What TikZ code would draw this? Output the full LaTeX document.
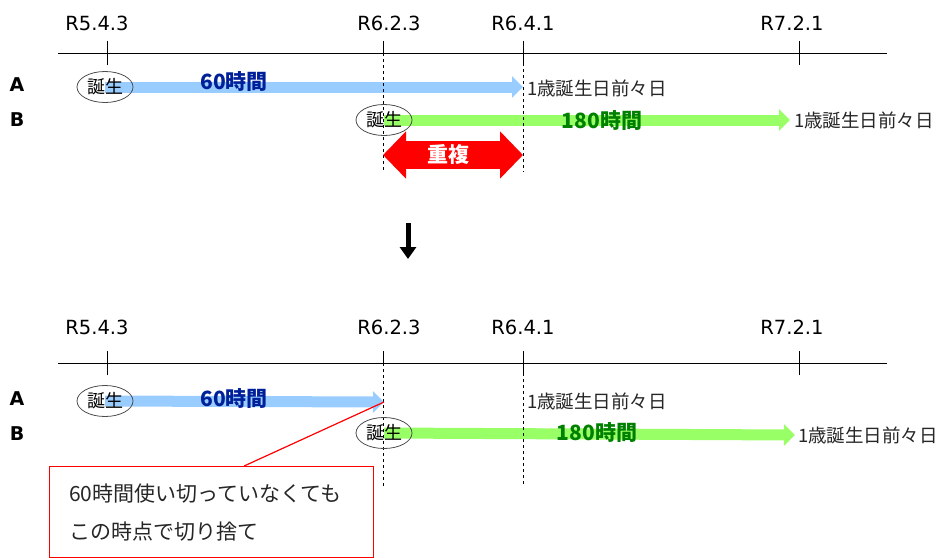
\documentclass[tikz,border=0pt]{standalone}
\usepackage{fontspec}
\setmainfont{DejaVu Sans}
\newfontfamily\jp{Noto Sans CJK JP}
\usetikzlibrary{arrows.meta,backgrounds,calc,shapes.geometric}

\definecolor{barblue}{RGB}{153,204,255}
\definecolor{bargreen}{RGB}{153,255,102}
\definecolor{txtblue}{RGB}{0,32,153}
\definecolor{txtgreen}{RGB}{0,128,0}

\tikzset{
    axis/.style={line width=0.9pt},
    guide/.style={line width=0.8pt, dash pattern=on 3pt off 3pt},
    datelbl/.style={inner sep=0pt, font=\fontsize{19.5}{22}\selectfont},
    rowlbl/.style={inner sep=0pt, font=\fontsize{19}{22}\selectfont\bfseries},
    birth/.style={ellipse, draw=black!70, line width=0.8pt, minimum width=56pt, minimum height=31pt, inner sep=0pt,
        font=\jp\fontsize{18}{20}\selectfont},
    daytxt/.style={anchor=west, inner sep=0pt, text=black!85, font=\jp\fontsize{18.5}{22}\selectfont},
    hours/.style={inner sep=0pt, font=\jp\bfseries\fontsize{21}{24}\selectfont},
    barA/.style={barblue, line width=11pt, -{Triangle[length=11pt,width=21pt]}},
    barB/.style={bargreen, line width=11pt, -{Triangle[length=11pt,width=21pt]}},
    overlap/.style={red, line width=28pt, {Triangle[length=23pt,width=46pt]}-{Triangle[length=23pt,width=46pt]}},
    downarrow/.style={line width=5pt, -{Triangle[length=12pt,width=16pt]}},
    notebox/.style={draw=red, line width=1.2pt, minimum width=324pt, minimum height=91pt, inner sep=0pt},
    notetxt/.style={anchor=west, inner sep=0pt, text=black!85, font=\jp\fontsize{21}{24}\selectfont}
}

\begin{document}
\begin{tikzpicture}[x=1pt, y=-1pt]
\useasboundingbox (0,0) rectangle (941,557);

% before
\draw[axis] (58,53) -- (887,53)
    (107,41) -- (107,65)
    (383,41) -- (383,53)
    (523,41) -- (523,63)
    (799,41) -- (799,65);
\draw[guide] (383,53) -- (383,172)
    (523,63) -- (523,172);

\node[datelbl] (d1) at (97,23) {R5.4.3};
\node[datelbl] (d2) at (389,23) {R6.2.3};
\node[datelbl] (d3) at (523,23) {R6.4.1};
\node[datelbl] (d4) at (792,23) {R7.2.1};

\node[rowlbl] (rowA) at (17,85) {A};
\node[rowlbl] (rowB) at (17,120) {B};

\node[birth] (birthA) at (105,87) {誕生};
\node[birth] (birthB) at (384,120) {誕生};
\coordinate (endA) at (523,87);
\coordinate (endB) at (790,120);
\begin{scope}[on background layer]
    \draw[barA] (birthA.center) -- (endA);
    \draw[barB] (birthB.center) -- (endB);
\end{scope}
\node[hours, txtblue] (hoursA) at (234,82) {60時間};
\node[hours, txtgreen] (hoursB) at (602,121) {180時間};
\node[daytxt] (lastA) at (527,88) {1歳誕生日前々日};
\node[daytxt] (lastB) at (794,120) {1歳誕生日前々日};

\coordinate (dupL) at (383,155);
\coordinate (dupR) at (523,155);
\draw[overlap] (dupL) -- (dupR);
\node[hours, white] (dup) at (448,155) {重複};

% arrow
\coordinate (arrTop) at (408,223);
\coordinate (arrBot) at (408,259);
\draw[downarrow] (arrTop) -- (arrBot);

% after
\draw[axis] (58,363) -- (887,363)
    (107,351) -- (107,375)
    (383,351) -- (383,363)
    (523,351) -- (523,373)
    (799,351) -- (799,375);
\draw[guide] (383,363) -- (383,486)
    (523,373) -- (523,486);

\node[datelbl] (e1) at (97,327) {R5.4.3};
\node[datelbl] (e2) at (389,327) {R6.2.3};
\node[datelbl] (e3) at (523,327) {R6.4.1};
\node[datelbl] (e4) at (792,327) {R7.2.1};

\node[rowlbl] (rowA2) at (17,399) {A};
\node[rowlbl] (rowB2) at (17,434) {B};

\node[birth] (birthA2) at (105,401) {誕生};
\node[birth] (birthB2) at (384,433) {誕生};
\coordinate (endA2) at (384,402);
\coordinate (endB2) at (795,435);
\begin{scope}[on background layer]
    \draw[barA] (birthA2.center) -- (endA2);
    \draw[barB] (birthB2.center) -- (endB2);
\end{scope}
\node[hours, txtblue] (hoursA2) at (234,399) {60時間};
\node[hours, txtgreen] (hoursB2) at (597,433) {180時間};
\node[daytxt] (lastA2) at (527,401) {1歳誕生日前々日};
\node[daytxt] (lastB2) at (798,435) {1歳誕生日前々日};

\node[notebox, anchor=north west] (note) at (49,466) {};
\node[notetxt] (note1) at (69,494) {60時間使い切っていなくても};
\node[notetxt] (note2) at (69,532) {この時点で切り捨て};
\draw[red, line width=1.2pt] (endA2) -- ($(note.north west)!0.6!(note.north east)$);
\end{tikzpicture}
\end{document}
